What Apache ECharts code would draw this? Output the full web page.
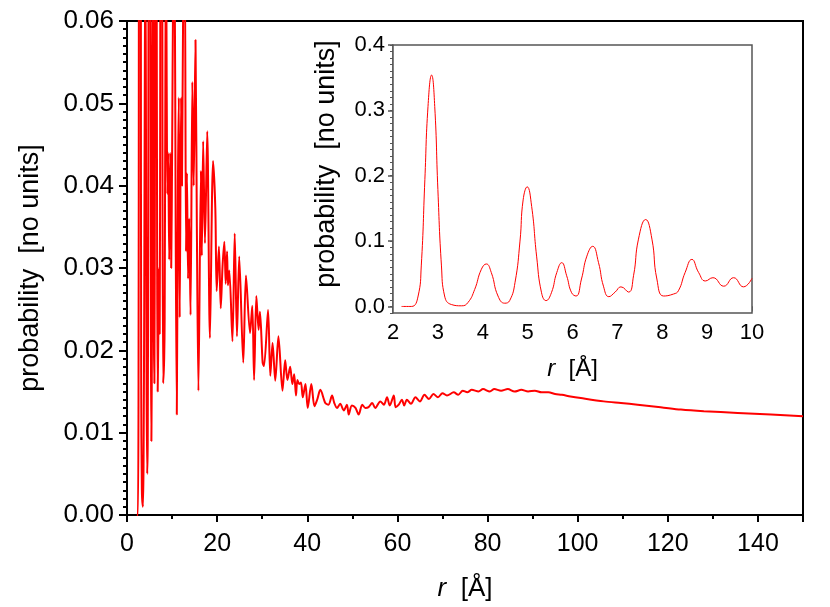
<!DOCTYPE html>
<html>
<head>
<meta charset="utf-8">
<script src="https://cdn.jsdelivr.net/npm/echarts@6/dist/echarts.min.js"></script>
<style>
  html, body { margin: 0; padding: 0; background: #fff; }
  #chart { width: 830px; height: 607px; }
</style>
</head>
<body>
<div id="chart"></div>
<script>
// short range (inset) values, r in Å
const insetR = [2.19, 2.41, 2.56, 2.63, 2.71, 2.78, 2.86, 2.93, 3.0, 3.08, 3.15, 3.3, 3.53, 3.67, 3.82, 3.97, 4.08, 4.19, 4.34, 4.49, 4.6, 4.72, 4.83, 4.9, 4.99, 5.09, 5.2, 5.31, 5.41, 5.53, 5.65, 5.76, 5.87, 5.98, 6.08, 6.2, 6.32, 6.45, 6.58, 6.69, 6.81, 6.95, 7.08, 7.25, 7.36, 7.47, 7.63, 7.77, 7.88, 8.03, 8.25, 8.36, 8.51, 8.66, 8.81, 8.96, 9.13, 9.37, 9.59, 9.81, 10.0]
const insetP = [0.0, 0.0, 0.016, 0.062, 0.194, 0.306, 0.354, 0.306, 0.179, 0.062, 0.016, 0.003, 0.001, 0.006, 0.026, 0.057, 0.065, 0.052, 0.016, 0.005, 0.009, 0.037, 0.10, 0.163, 0.183, 0.153, 0.077, 0.021, 0.009, 0.021, 0.052, 0.067, 0.047, 0.021, 0.016, 0.042, 0.077, 0.092, 0.067, 0.031, 0.015, 0.022, 0.030, 0.022, 0.047, 0.103, 0.133, 0.103, 0.042, 0.016, 0.019, 0.024, 0.052, 0.072, 0.052, 0.039, 0.044, 0.031, 0.044, 0.030, 0.043]

// long range values beyond 10 Å
const longR = [10.25, 10.5, 10.8, 11.05, 11.3, 11.5, 11.7, 12.0, 12.2, 12.5, 12.8, 13.1, 13.3, 13.55, 13.8, 14.1, 14.5, 14.8, 15.2, 15.5, 15.85, 16.4, 16.6, 16.9, 17.3, 17.8, 18.4, 19.1, 19.6, 19.9, 20.4, 20.8, 21.2, 21.6, 21.9, 22.2, 22.4, 22.7, 23.4, 23.9, 24.4, 24.9, 25.8, 26.4, 27.3, 27.8, 28.2, 28.7, 29.2, 29.5, 30.1, 30.4, 31.3, 31.8, 32.3, 32.9, 33.6, 34.5, 35.1, 35.6, 36.2, 36.7, 37.1, 37.5, 37.8, 38.2, 38.6, 39.0, 39.6, 40.1, 40.9, 41.6, 42.2, 42.9, 44.0, 44.7, 45.5, 46.0, 46.6, 47.3, 48.1, 48.8, 49.2, 49.9, 50.7, 51.4, 52.2, 52.9, 53.6, 54.4, 55.1, 56.2, 57.0, 57.7, 58.3, 59.2, 59.6, 60.3, 61.0, 61.5, 62.1, 63.0, 64.0, 65.0, 66.0, 67.0, 68.0, 69.0, 70.0, 71.0, 72.5, 73.5, 74.5, 75.5, 76.5, 78.0, 79.0, 80.5, 81.5, 83.0, 84.5, 86.0, 87.5, 89.0, 90.5, 92.0, 93.5, 95.0, 96.5, 98.4, 100.7, 105.8, 109.6, 113.3, 118.4, 122.9, 128.0, 135.5, 142.9, 150.0]
const longP = [0.065, 0.075, 0.035, 0.0122, 0.040, 0.0507, 0.024, 0.0507, 0.040, 0.065, 0.070, 0.032, 0.0415, 0.0287, 0.036, 0.0243, 0.0526, 0.040, 0.0577, 0.035, 0.0151, 0.0418, 0.0315, 0.0454, 0.033, 0.0466, 0.0215, 0.043, 0.0372, 0.0272, 0.0326, 0.0251, 0.0302, 0.0332, 0.0281, 0.032, 0.0279, 0.0297, 0.0211, 0.0342, 0.0217, 0.0314, 0.0185, 0.0291, 0.0221, 0.0254, 0.0164, 0.0266, 0.0225, 0.0247, 0.0185, 0.0181, 0.0249, 0.0169, 0.0209, 0.0163, 0.0217, 0.0151, 0.0188, 0.0164, 0.018, 0.0159, 0.0171, 0.0145, 0.0164, 0.0159, 0.0161, 0.0143, 0.0159, 0.013, 0.0159, 0.0132, 0.014, 0.0152, 0.0136, 0.0134, 0.0145, 0.0136, 0.013, 0.0135, 0.0127, 0.0134, 0.0122, 0.0133, 0.013, 0.0122, 0.0134, 0.013, 0.0131, 0.0136, 0.013, 0.0138, 0.0134, 0.0143, 0.0133, 0.0145, 0.0131, 0.0134, 0.0140, 0.0133, 0.0140, 0.0135, 0.0143, 0.0138, 0.0146, 0.0141, 0.0147, 0.0143, 0.0148, 0.0145, 0.0149, 0.0146, 0.0151, 0.0149, 0.0152, 0.0150, 0.0153, 0.0150, 0.0153, 0.0151, 0.0153, 0.0150, 0.0152, 0.0150, 0.0151, 0.0149, 0.0149, 0.0147, 0.0146, 0.0144, 0.0142, 0.0138, 0.0136, 0.0134, 0.0131, 0.0128, 0.0126, 0.0124, 0.0122, 0.0120]

const mainXTicks = [0, 20, 40, 60, 80, 100, 120, 140]
const insetYLabels = [0, 0.1, 0.2, 0.3, 0.4]

const insetData = insetR.map((r, i) => [r, insetP[i]])
const mainData = insetData.concat(longR.map((r, i) => [r, longP[i]]))

const font = 'Liberation Sans'
const insetMinorY = []
for (let v = -0.01; v <= 0.4001; v += 0.01) insetMinorY.push(+v.toFixed(2))

const chart = echarts.init(document.getElementById('chart'))

chart.setOption({
  animation: false,
  textStyle: { fontFamily: font },
  grid: [
    { left: 127, top: 21, right: 27, bottom: 89, show: true, borderColor: '#000', borderWidth: 2 },
    { left: 393, top: 45, right: 78, bottom: 294, show: true, borderColor: '#555', borderWidth: 1.5, backgroundColor: '#fff', z: 5 }
  ],
  xAxis: [
    {
      gridIndex: 0, type: 'value', min: 0, max: 150, interval: 20,
      name: '{i|r}  [Å]', nameLocation: 'middle', nameGap: 61,
      nameTextStyle: { fontSize: 26, color: '#000', rich: { i: { fontStyle: 'italic', fontSize: 26, color: '#000' } } },
      axisLine: { lineStyle: { color: '#000', width: 2 } },
      axisTick: { inside: false, length: 7, lineStyle: { color: '#000', width: 2 } },
      minorTick: { show: true, splitNumber: 2, length: 4, lineStyle: { color: '#000', width: 2 } },
      axisLabel: { fontSize: 25, color: '#000', margin: 17, customValues: mainXTicks },
      splitLine: { show: false }
    },
    {
      gridIndex: 1, type: 'value', min: 2, max: 10, interval: 1,
      name: '{i|r}  [Å]', nameLocation: 'middle', nameGap: 44,
      nameTextStyle: { fontSize: 24, color: '#000', rich: { i: { fontStyle: 'italic', fontSize: 24, color: '#000' } } },
      axisLine: { lineStyle: { color: '#555', width: 1.5 } },
      axisTick: { inside: false, length: 5, lineStyle: { color: '#555', width: 1.5 } },
      minorTick: { show: true, splitNumber: 2, length: 3, lineStyle: { color: '#555', width: 1.5 } },
      axisLabel: { fontSize: 22, color: '#000', margin: 9 },
      splitLine: { show: false }
    }
  ],
  yAxis: [
    {
      gridIndex: 0, type: 'value', min: 0, max: 0.06, interval: 0.01,
      name: 'probability  [no units]', nameLocation: 'middle', nameGap: 83,
      nameTextStyle: { fontSize: 27, color: '#000' },
      axisLine: { lineStyle: { color: '#000', width: 2 } },
      axisTick: { inside: false, length: 8, lineStyle: { color: '#000', width: 2 } },
      minorTick: { show: true, splitNumber: 10, length: 4, lineStyle: { color: '#000', width: 2 } },
      axisLabel: { fontSize: 26, color: '#000', margin: 13, formatter: v => v.toFixed(2) },
      splitLine: { show: false }
    },
    {
      gridIndex: 1, type: 'value', min: -0.01, max: 0.4,
      name: 'probability  [no units]', nameLocation: 'middle', nameGap: 53,
      nameTextStyle: { fontSize: 27, color: '#000', padding: [0, 0, 0, 30] },
      axisLine: { lineStyle: { color: '#555', width: 1.5 } },
      axisTick: { inside: false, length: 5, customValues: insetYLabels, lineStyle: { color: '#555', width: 1.5 } },
      axisLabel: { fontSize: 22, color: '#000', margin: 8, customValues: insetYLabels, formatter: v => v.toFixed(1) },
      splitLine: { show: false }
    },
    {
      // minor ticks of the inset
      gridIndex: 1, type: 'value', min: -0.01, max: 0.4, position: 'left',
      axisLine: { show: false },
      axisTick: { inside: false, length: 3, customValues: insetMinorY, lineStyle: { color: '#555', width: 1 } },
      axisLabel: { show: false },
      splitLine: { show: false }
    }
  ],
  series: [
    {
      type: 'line', xAxisIndex: 0, yAxisIndex: 0, data: mainData,
      showSymbol: false, smooth: 0.3, clip: true,
      lineStyle: { color: '#ff0000', width: 2 }
    },
    {
      type: 'line', xAxisIndex: 1, yAxisIndex: 1, data: insetData,
      showSymbol: false, smooth: 0.5, z: 6,
      lineStyle: { color: '#ff0000', width: 1 }
    }
  ]
})
</script>
</body>
</html>
